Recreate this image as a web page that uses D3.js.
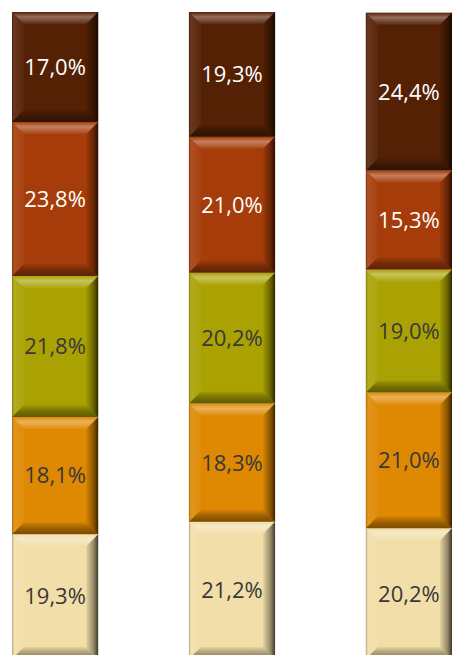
<!DOCTYPE html>
<html>
<head>
<meta charset="utf-8">
<script src="https://cdn.jsdelivr.net/npm/d3@7"></script>
<style>
  html, body { margin: 0; padding: 0; background: #fff; }
  svg { display: block; }
</style>
</head>
<body>
<svg id="chart" width="452" height="655"></svg>
<script>
// Three 100% stacked columns, five shares each (bottom to top)
const categories = ["1", "2", "3"];
const seriesKeys = ["s1", "s2", "s3", "s4", "s5"];
const s1 = [19.3, 21.2, 20.2];
const s2 = [18.1, 18.3, 21.0];
const s3 = [21.8, 20.2, 19.0];
const s4 = [23.8, 21.0, 15.3];
const s5 = [17.0, 19.3, 24.4];

const seriesColors = ["#f2dea8", "#df8903", "#aaa203", "#a53c09", "#552104"];
const labelColors  = ["#383838", "#383838", "#383838", "#ffffff", "#ffffff"];

const rows = categories.map((c, i) => ({
  cat: c, s1: s1[i], s2: s2[i], s3: s3[i], s4: s4[i], s5: s5[i]
}));

const svg = d3.select("#chart");

const x = d3.scaleBand().domain(categories).range([12, 452])
  .paddingInner(0.513).paddingOuter(0);
const y = d3.scaleLinear().domain([0, 100]).range([659, 12]);

const stacked = d3.stack().keys(seriesKeys)(rows);

const fmt = d3.formatLocale({ decimal: ",", thousands: " ", grouping: [3], currency: ["", ""] })
  .format(".1f");

// Gradients for the bevelled edges (shared overlays in white/black)
const defs = svg.append("defs");
function grad(id, x1, y1, x2, y2, stops) {
  const g = defs.append("linearGradient").attr("id", id)
    .attr("x1", x1).attr("y1", y1).attr("x2", x2).attr("y2", y2);
  stops.forEach(s => g.append("stop").attr("offset", s[0])
    .attr("stop-color", s[1]).attr("stop-opacity", s[2]));
}
grad("bevTop", 0, 0, 0, 1, [[0, "#fff", 0.0], [0.4, "#fff", 0.35], [1, "#fff", 0.05]]);
grad("bevBot", 0, 0, 0, 1, [[0, "#000", 0.05], [0.5, "#000", 0.3], [1, "#000", 0.45]]);
grad("bevLeft", 0, 0, 1, 0, [[0, "#000", 0.3], [0.2, "#fff", 0.1], [1, "#fff", 0.03]]);
grad("bevRight", 0, 0, 1, 0, [[0, "#000", 0.05], [0.65, "#000", 0.4], [1, "#000", 0.75]]);

const bev = 12; // bevel depth in px

const layers = svg.append("g").selectAll("g")
  .data(stacked).join("g");

layers.each(function(layer, li) {
  const g = d3.select(this);
  const segs = g.selectAll("g.seg").data(layer).join("g").attr("class", "seg");
  segs.each(function(d) {
    const s = d3.select(this);
    const x0 = x(d.data.cat), x1 = x0 + x.bandwidth();
    const yt = y(d[1]), yb = y(d[0]);
    const b = Math.min(bev, (yb - yt) / 2);
    s.append("rect").attr("x", x0).attr("y", yt)
      .attr("width", x1 - x0).attr("height", yb - yt)
      .attr("fill", seriesColors[li]);
    const poly = (pts, fill) => s.append("polygon")
      .attr("points", pts.map(p => p.join(",")).join(" "))
      .attr("fill", fill);
    poly([[x0, yt], [x1, yt], [x1 - b, yt + b], [x0 + b, yt + b]], "url(#bevTop)");
    poly([[x0 + b, yb - b], [x1 - b, yb - b], [x1, yb], [x0, yb]], "url(#bevBot)");
    poly([[x0, yt], [x0 + b, yt + b], [x0 + b, yb - b], [x0, yb]], "url(#bevLeft)");
    poly([[x1 - b, yt + b], [x1, yt], [x1, yb], [x1 - b, yb - b]], "url(#bevRight)");
    s.append("text")
      .attr("x", (x0 + x1) / 2)
      .attr("y", (yt + yb) / 2)
      .attr("dy", "0.36em")
      .attr("text-anchor", "middle")
      .attr("font-family", "'Open Sans', sans-serif")
      .attr("font-size", 22)
      .attr("fill", labelColors[li])
      .text(fmt(d.data[layer.key]) + "%");
  });
});
</script>
</body>
</html>
